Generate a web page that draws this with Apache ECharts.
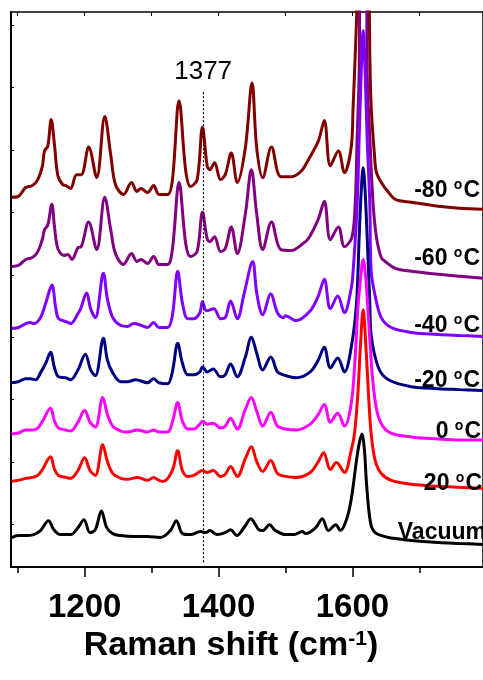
<!DOCTYPE html>
<html>
<head>
<meta charset="utf-8">
<title>Raman spectra vs temperature</title>
<script src="https://cdn.jsdelivr.net/npm/echarts@6.0.0/dist/echarts.min.js"></script>
<style>
  html, body { margin: 0; padding: 0; background: #fff; }
  #chart { width: 483px; height: 680px; }
</style>
</head>
<body>
<div id="chart"></div>
<script>
// 拉曼光谱 [波数 cm-1, 强度 a.u.（已含堆叠偏移）]
const specM80 = [[1091,375],[1101,376],[1112,385],[1122,387],[1130,393],[1137,407],[1140,422],[1145,427],[1150,454],[1155,428],[1160,397],[1167,388],[1172,387],[1179,384],[1188,398],[1195,398],[1206,426],[1218,395],[1230,457],[1239,418],[1246,388],[1258,378],[1270,390],[1278,381],[1284,384],[1294,380],[1303,387],[1311,378],[1324,378],[1331,392],[1341,473],[1351,402],[1358,386],[1368,393],[1376,446],[1383,407],[1387,403],[1394,410],[1403,393],[1410,398],[1419,420],[1428,390],[1440,425],[1450,491],[1457,425],[1466,395],[1479,426],[1493,396],[1509,396],[1524,402],[1534,413],[1549,432],[1558,453],[1567,407],[1579,422],[1588,400],[1598,425],[1601,467],[1604,517],[1607,575],[1611,700],[1621,700],[1625,575],[1626,517],[1628,467],[1633,417],[1636,400],[1646,387],[1654,380],[1664,373],[1688,370],[1728,366],[1760,364],[1795,363]];
const specM60 = [[1091,305],[1101,306],[1112,312],[1122,314],[1130,320],[1137,333],[1140,342],[1145,347],[1151,368],[1155,345],[1160,323],[1169,316],[1175,317],[1181,312],[1190,324],[1195,325],[1206,350],[1218,322],[1230,375],[1239,342],[1246,318],[1258,307],[1270,318],[1278,310],[1284,312],[1294,308],[1303,315],[1311,307],[1324,307],[1331,322],[1341,390],[1351,328],[1358,315],[1368,320],[1376,360],[1383,333],[1387,330],[1394,335],[1403,320],[1410,323],[1419,345],[1428,318],[1440,358],[1449,403],[1457,358],[1466,322],[1479,350],[1493,322],[1509,321],[1524,327],[1534,333],[1549,353],[1558,371],[1567,332],[1579,345],[1588,325],[1599,334],[1604,367],[1607,434],[1610,500],[1612,600],[1621,600],[1622,500],[1626,434],[1631,367],[1636,334],[1643,314],[1649,310],[1664,303],[1688,300],[1728,297],[1760,295],[1795,293]];
const specM40 = [[1091,242],[1101,243],[1112,247],[1119,248],[1124,247],[1134,253],[1142,268],[1151,286],[1157,262],[1161,252],[1172,249],[1179,247],[1190,257],[1194,262],[1203,278],[1209,262],[1216,253],[1228,298],[1234,272],[1242,253],[1254,245],[1264,244],[1273,247],[1281,246],[1294,243],[1303,248],[1311,243],[1324,243],[1331,255],[1339,300],[1346,268],[1354,252],[1363,252],[1372,258],[1376,269],[1382,260],[1393,262],[1403,252],[1410,253],[1418,270],[1428,252],[1439,280],[1451,310],[1457,278],[1466,256],[1478,277],[1488,258],[1497,253],[1500,255],[1516,250],[1537,260],[1549,275],[1558,292],[1567,262],[1578,275],[1588,258],[1598,282],[1601,300],[1607,367],[1610,434],[1613,500],[1616,544],[1619,500],[1622,434],[1626,367],[1628,300],[1634,275],[1643,253],[1658,243],[1688,238],[1728,236],[1760,235],[1795,234]];
const specM20 = [[1091,187],[1101,188],[1112,191],[1119,191],[1127,190],[1134,197],[1142,207],[1149,218],[1155,202],[1161,193],[1172,192],[1179,190],[1190,200],[1201,216],[1209,200],[1216,194],[1228,232],[1234,210],[1242,197],[1254,188],[1264,188],[1276,190],[1294,187],[1303,191],[1311,187],[1324,186],[1331,198],[1339,227],[1346,207],[1354,195],[1363,195],[1372,198],[1376,203],[1383,198],[1392,201],[1403,193],[1410,195],[1418,206],[1428,193],[1440,213],[1449,233],[1457,217],[1466,200],[1478,213],[1488,198],[1497,195],[1516,192],[1537,198],[1549,210],[1558,223],[1567,202],[1578,212],[1588,198],[1598,222],[1606,267],[1610,334],[1613,380],[1616,405],[1619,380],[1622,334],[1626,267],[1628,235],[1639,202],[1654,190],[1688,183],[1728,181],[1760,180],[1795,179]];
const spec0 = [[1091,135],[1101,136],[1112,139],[1122,139],[1130,141],[1137,148],[1149,161],[1155,148],[1161,141],[1172,139],[1179,138],[1190,147],[1200,159],[1208,147],[1216,142],[1227,172],[1234,155],[1242,143],[1254,138],[1264,137],[1279,139],[1294,137],[1303,139],[1311,137],[1324,137],[1331,147],[1339,167],[1346,148],[1354,140],[1363,140],[1372,145],[1376,148],[1383,145],[1392,146],[1403,141],[1410,143],[1418,151],[1428,140],[1440,160],[1449,172],[1457,158],[1466,143],[1478,157],[1488,143],[1500,140],[1516,139],[1537,145],[1549,155],[1558,165],[1567,147],[1578,156],[1588,143],[1598,165],[1604,212],[1608,262],[1612,292],[1616,312],[1620,292],[1623,262],[1627,220],[1631,185],[1639,152],[1654,137],[1688,132],[1728,130],[1760,129],[1795,129]];
const spec20 = [[1091,87],[1101,88],[1112,90],[1122,91],[1130,93],[1137,99],[1149,112],[1155,99],[1161,93],[1172,91],[1179,90],[1190,98],[1200,111],[1208,98],[1216,93],[1227,124],[1234,107],[1242,95],[1254,90],[1264,89],[1279,91],[1294,88],[1303,91],[1311,88],[1318,87],[1331,98],[1339,118],[1346,98],[1354,92],[1363,93],[1372,97],[1376,98],[1383,96],[1392,98],[1403,92],[1410,94],[1418,102],[1428,92],[1440,110],[1449,122],[1457,107],[1466,97],[1478,108],[1488,95],[1500,92],[1516,91],[1537,96],[1549,107],[1557,116],[1567,99],[1576,106],[1588,96],[1598,118],[1603,135],[1608,175],[1612,225],[1616,261],[1620,225],[1624,175],[1628,135],[1634,108],[1643,95],[1658,88],[1688,84],[1728,82],[1760,81],[1795,80]];
const specVac = [[1091,30],[1101,32],[1112,32],[1124,33],[1134,37],[1146,47],[1154,38],[1164,33],[1179,33],[1190,40],[1199,48],[1208,35],[1216,38],[1225,57],[1233,40],[1242,34],[1254,32],[1273,31],[1294,31],[1313,30],[1328,37],[1337,47],[1346,34],[1358,33],[1373,36],[1381,35],[1387,37],[1398,33],[1410,35],[1418,38],[1427,32],[1440,42],[1448,49],[1460,38],[1466,37],[1476,43],[1485,37],[1500,33],[1513,33],[1525,36],[1530,34],[1545,40],[1555,49],[1564,37],[1575,43],[1582,37],[1591,48],[1598,68],[1606,108],[1610,125],[1614,135],[1618,118],[1621,85],[1627,45],[1634,35],[1654,30],[1664,29],[1688,27],[1728,25],[1760,24],[1795,23]];

const spectra = [specM80, specM60, specM40, specM20, spec0, spec20, specVac];
const seriesNames = ['-80 °C', '-60 °C', '-40 °C', '-20 °C', '0 °C', '20 °C', 'Vacuum'];
const seriesLabels = ['{n|-80 }{s|o}{n|C}', '{n|-60 }{s|o}{n|C}', '{n|-40 }{s|o}{n|C}', '{n|-20 }{s|o}{n|C}', '{n|0 }{s|o}{n|C}', '{n|20 }{s|o}{n|C}', '{n|Vacuum}'];
const seriesColors = ['#800000', '#800080', '#8000ff', '#000080', '#ff00ff', '#ff0000', '#000000'];

const xTicksMajor = [1200, 1400, 1600];
const xTicksMinor = [1100, 1300, 1500, 1700];
const xTicksTop = [1100, 1200, 1300, 1400, 1500, 1600, 1700];
const yTicks = [43, 106, 170, 233, 296, 360, 423, 487, 550];
const markShift = 1377;

// 右侧标签的位置（像素）
const labelRight = [480, 480, 480, 480, 481, 482, 486];
const labelY = [190, 258, 325, 380, 431, 483, 532];

const FONT = '"Liberation Sans", Arial, sans-serif';

const chart = echarts.init(document.getElementById('chart'));

const series = spectra.map((data, i) => ({
  name: seriesNames[i],
  type: 'line',
  data: data,
  showSymbol: false,
  smooth: 0.35,
  clip: true,
  lineStyle: { color: seriesColors[i], width: 3 },
  itemStyle: { color: seriesColors[i] },
  z: 2 + i
}));

// 1377 虚线标记
series[series.length - 1].markLine = {
  silent: true,
  symbol: 'none',
  animation: false,
  lineStyle: { color: '#000', type: [2, 2], width: 1.2 },
  label: {
    show: true,
    position: 'end',
    distance: 6,
    formatter: String(markShift),
    color: '#000',
    fontSize: 26,
    fontFamily: FONT
  },
  data: [[{ coord: [markShift, 5] }, { coord: [markShift, 483] }]]
};

const option = {
  animation: false,
  backgroundColor: '#fff',
  grid: {
    left: 11, right: 0, top: 12, bottom: 105,
    show: true, borderColor: '#000', borderWidth: 1.5, backgroundColor: 'transparent'
  },
  xAxis: [
    {
      type: 'value', min: 1090, max: 1795, position: 'bottom',
      name: 'Raman shift (cm{s|-1})',
      nameLocation: 'middle',
      nameGap: 60,
      nameTextStyle: {
        color: '#000', fontSize: 34, fontWeight: 'bold', fontFamily: FONT,
        lineHeight: 34, verticalAlign: 'bottom', padding: [0, 32, 0, 0],
        rich: {
          s: { fontSize: 21, fontWeight: 'bold', fontFamily: FONT, color: '#000',
               lineHeight: 21, verticalAlign: 'top', padding: [0, 0, 25, 0] }
        }
      },
      axisLine: { show: true, lineStyle: { color: '#000', width: 2 } },
      axisTick: { show: true, customValues: xTicksMajor, length: 10, lineStyle: { color: '#000', width: 1.5 } },
      axisLabel: {
        show: true, customValues: xTicksMajor, margin: 24,
        formatter: (v) => String(v),
        color: '#000', fontSize: 33, fontWeight: 'bold', fontFamily: FONT
      },
      splitLine: { show: false }
    },
    {
      type: 'value', min: 1090, max: 1795, position: 'bottom',
      axisLine: { show: false },
      axisTick: { show: true, customValues: xTicksMinor, length: 6, lineStyle: { color: '#000', width: 1.5 } },
      axisLabel: { show: false },
      splitLine: { show: false }
    },
    {
      type: 'value', min: 1090, max: 1795, position: 'top',
      axisLine: { show: false },
      axisTick: { show: true, inside: true, customValues: xTicksTop, length: 4, lineStyle: { color: '#000', width: 1 } },
      axisLabel: { show: false },
      splitLine: { show: false }
    }
  ],
  yAxis: [
    {
      type: 'value', min: 0, max: 563, position: 'left',
      axisLine: { show: true, lineStyle: { color: '#000', width: 2 } },
      axisTick: { show: true, inside: true, customValues: yTicks, length: 3, lineStyle: { color: '#000', width: 1 } },
      axisLabel: { show: false },
      splitLine: { show: false }
    }
  ],
  series: series,
  graphic: seriesLabels.map((txt, i) => ({
    type: 'text',
    x: labelRight[i],
    y: labelY[i],
    z: 100,
    style: {
      text: txt,
      align: 'right',
      verticalAlign: 'middle',
      fill: '#000',
      fontSize: 23,
      fontWeight: 'bold',
      fontFamily: FONT,
      rich: {
        n: { fontSize: 23, fontWeight: 'bold', fontFamily: FONT, fill: '#000', lineHeight: 24, verticalAlign: 'bottom' },
        s: { fontSize: 14, fontWeight: 'bold', fontFamily: FONT, fill: '#000', lineHeight: 14, verticalAlign: 'top', padding: [0, 1, 15, 0] }
      }
    }
  }))
};

chart.setOption(option);
window.addEventListener('resize', () => chart.resize());
</script>
</body>
</html>
